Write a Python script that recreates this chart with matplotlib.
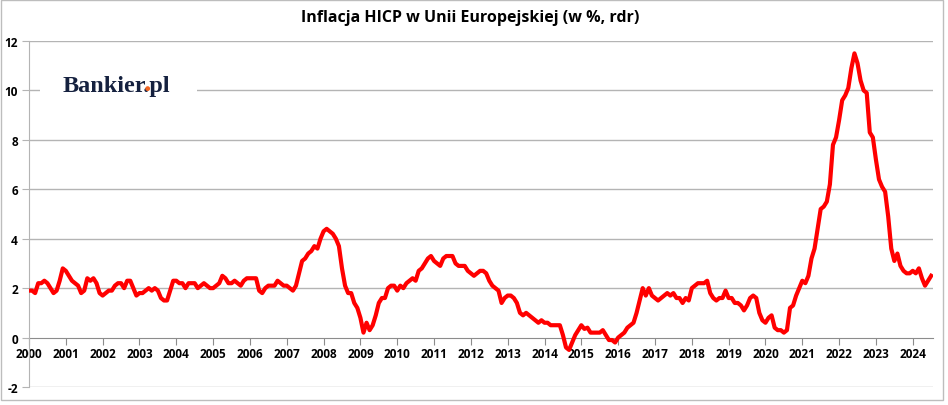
import numpy as np
import matplotlib
matplotlib.use("Agg")
import matplotlib.pyplot as plt
from matplotlib.patches import Rectangle, Circle

# miesięczna inflacja HICP w UE (% r/r), od stycznia 2000
inflation = [
    1.9, 1.9, 1.8, 2.2, 2.2, 2.3, 2.2, 2.0, 1.8, 1.9, 2.3, 2.8,
    2.7, 2.5, 2.3, 2.2, 2.1, 1.8, 1.9, 2.4, 2.3, 2.4, 2.2, 1.8,
    1.7, 1.8, 1.9, 1.9, 2.1, 2.2, 2.2, 2.0, 2.3, 2.3, 2.0, 1.7,
    1.8, 1.8, 1.9, 2.0, 1.9, 2.0, 1.9, 1.6, 1.5, 1.5, 1.9, 2.3,
    2.3, 2.2, 2.2, 2.0, 2.2, 2.2, 2.2, 2.0, 2.1, 2.2, 2.1, 2.0,
    2.0, 2.1, 2.2, 2.5, 2.4, 2.2, 2.2, 2.3, 2.2, 2.1, 2.3, 2.4,
    2.4, 2.4, 2.4, 1.9, 1.8, 2.0, 2.1, 2.1, 2.1, 2.3, 2.2, 2.1,
    2.1, 2.0, 1.9, 2.1, 2.6, 3.1, 3.2, 3.4, 3.5, 3.7, 3.6, 4.0,
    4.3, 4.4, 4.3, 4.2, 4.0, 3.7, 2.8, 2.1, 1.8, 1.8, 1.4, 1.2,
    0.8, 0.2, 0.6, 0.3, 0.5, 0.9, 1.4, 1.6, 1.6, 2.0, 2.1, 2.1,
    1.9, 2.1, 2.0, 2.2, 2.3, 2.4, 2.3, 2.7, 2.8, 3.0, 3.2, 3.3,
    3.1, 3.0, 2.9, 3.2, 3.3, 3.3, 3.3, 3.0, 2.9, 2.9, 2.9, 2.7,
    2.6, 2.5, 2.6, 2.7, 2.7, 2.6, 2.3, 2.1, 2.0, 1.9, 1.4, 1.6,
    1.7, 1.7, 1.6, 1.4, 1.0, 0.9, 1.0, 0.9, 0.8, 0.7, 0.6, 0.7,
    0.6, 0.6, 0.5, 0.5, 0.5, 0.5, 0.1, -0.4, -0.5, -0.2, 0.1, 0.3,
    0.5, 0.35, 0.4, 0.2, 0.2, 0.2, 0.2, 0.3, 0.1, -0.1, -0.1, -0.2,
    0.0, 0.1, 0.2, 0.4, 0.5, 0.6, 1.0, 1.5, 2.0, 1.7, 2.0, 1.7,
    1.6, 1.5, 1.6, 1.7, 1.8, 1.7, 1.8, 1.6, 1.6, 1.4, 1.6, 1.5,
    2.0, 2.1, 2.2, 2.2, 2.2, 2.3, 1.8, 1.6, 1.5, 1.6, 1.6, 1.9,
    1.6, 1.6, 1.4, 1.4, 1.3, 1.1, 1.3, 1.6, 1.7, 1.6, 1.0, 0.7,
    0.6, 0.8, 0.9, 0.4, 0.3, 0.3, 0.2, 0.3, 1.2, 1.3, 1.7, 2.0,
    2.3, 2.2, 2.5, 3.2, 3.6, 4.4, 5.2, 5.3, 5.5, 6.2, 7.8, 8.1,
    8.8, 9.6, 9.8, 10.1, 10.9, 11.5, 11.1, 10.4, 10.0, 9.9, 8.3, 8.1,
    7.2, 6.4, 6.1, 5.9, 4.9, 3.6, 3.1, 3.4, 2.9, 2.7, 2.6, 2.6,
    2.7, 2.6, 2.8, 2.4, 2.1, 2.3, 2.5,
]
years = list(range(2000, 2025))
y_ticks = [-2, 0, 2, 4, 6, 8, 10, 12]
title = "Inflacja HICP w Unii Europejskiej (w %, rdr)"

x = 2000 + np.arange(len(inflation)) / 12

fig = plt.figure(figsize=(9.48, 4.06), dpi=100)
ax = fig.add_axes([29 / 948, 1 - 388 / 406, 904 / 948, 346 / 406])

grid_c = "#b4b4b4"
for v in y_ticks:
    if v != 0:
        ax.axhline(v, color=grid_c, lw=1.0, zorder=1)

ax.plot(x, inflation, color="#ff0000", lw=3.0, solid_joinstyle="round", zorder=3)

ax.set_xlim(2000, 2024.55)
ax.set_ylim(-2, 12)

for s in ["top", "right"]:
    ax.spines[s].set_visible(False)
ax.spines["left"].set_color(grid_c)
ax.spines["bottom"].set_position(("data", 0))
ax.spines["bottom"].set_color("#8c8c8c")
ax.spines["bottom"].set_zorder(2)

tick_font = ["Open Sans", "DejaVu Sans"]
ax.set_xticks(years)
ax.set_xticklabels([str(y) for y in years], fontsize=8.5, fontweight="bold", family=tick_font)
ax.set_yticks(y_ticks)
ax.set_yticklabels([str(v) for v in y_ticks], fontsize=8.5, fontweight="bold", family=tick_font)
ax.tick_params(axis="x", length=5, color="#8c8c8c", pad=2)
ax.tick_params(axis="y", length=5, color=grid_c, pad=3)

# przerwa w linii siatki za logo
ax.add_patch(Rectangle((11 / 904, 0.835), 157 / 904, 0.05, transform=ax.transAxes,
                       facecolor="white", edgecolor="none", zorder=2))

# logo Bankier.pl (kropka na pomarańczowo)
navy = "#15213f"
logo_kw = dict(fontsize=17.5, fontweight="bold", family=["Liberation Serif", "DejaVu Serif"],
               va="baseline", ha="left")
lx, ly = 63 / 948, 1 - 92 / 406
fig.text(lx, ly, "Bankier.pl", color=navy, **logo_kw)
fig.canvas.draw()
renderer = fig.canvas.get_renderer()
probe = fig.text(lx, ly, "Bankier.", color="none", **logo_kw)
bb = probe.get_window_extent(renderer)
probe.remove()
W, H = fig.bbox.width, fig.bbox.height
r = 2.4
fig.add_artist(Circle((bb.x1 - r - 0.3, ly * H + r), r, transform=None,
                      facecolor="#f26522", edgecolor="none", zorder=5))

fig.text(470 / 948, 1 - 18 / 406, title, ha="center", va="center", fontsize=11.5,
         fontweight="bold", family=["Open Sans", "DejaVu Sans"])

# ramka wykresu
fig.add_artist(Rectangle((0.5 / 948, 1 - 401 / 406), 942 / 948, 400 / 406,
                         transform=fig.transFigure, facecolor="none",
                         edgecolor="#bdbdbd", lw=1.0))

fig.savefig("out.png", dpi=100)
